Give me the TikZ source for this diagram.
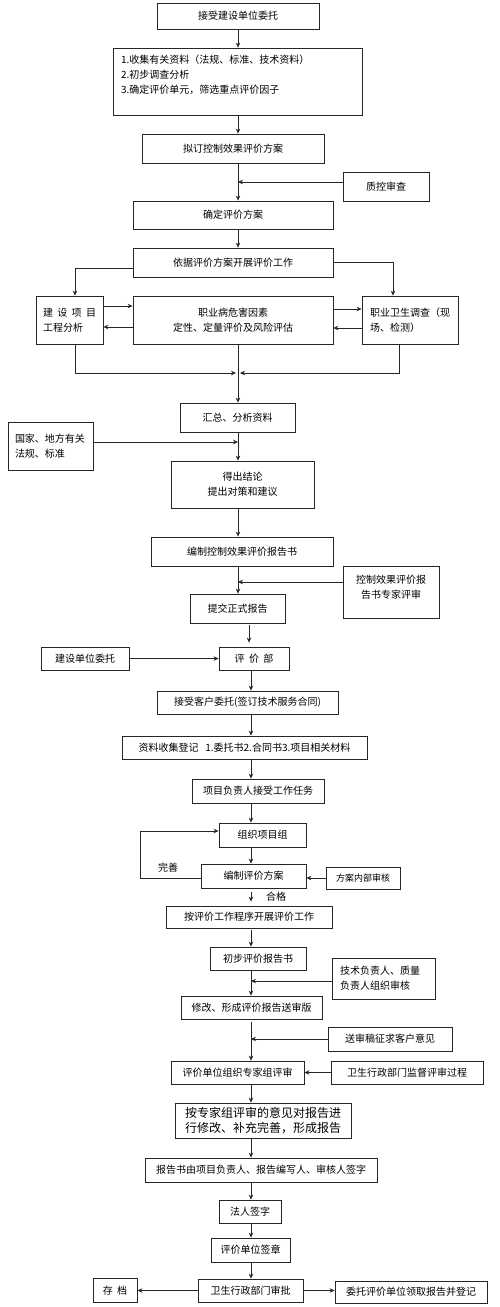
\documentclass[tikz,border=0pt]{standalone}
\usepackage{fontspec}
\newfontfamily\cjk{Noto Sans CJK SC}
\usetikzlibrary{arrows.meta}
\tikzset{
  box/.style={draw=black!85, line width=0.8pt, inner sep=0pt, align=center, font=\cjk\fontsize{10}{15}\selectfont},
  lbox/.style={box, align=left},
  arr/.style={draw=black!85, line width=0.8pt, -{Stealth[length=5pt,width=4.5pt]}},
  ln/.style={draw=black!85, line width=0.8pt},
  lab/.style={inner sep=0pt, font=\cjk\fontsize{10}{12}\selectfont}
}
\begin{document}
\begin{tikzpicture}[x=1pt,y=-1pt]
\useasboundingbox[fill=white] (0,0) rectangle (500,1307);
\coordinate (s) at (238,0);
\coordinate (t) at (251,0);
% upper part
\node[box, minimum width=162pt, minimum height=26pt] (b1) at (238,16) {接受建设单位委托};
\node[lbox, minimum width=249pt, minimum height=67pt, text width=233pt, inner xsep=8pt] (b2) at (237.5,81.5)
  {1.收集有关资料（法规、标准、技术资料）\\2.初步调查分析\\3.确定评价单元，筛选重点评价因子\\~};
\node[box, minimum width=182pt, minimum height=29pt] (b3) at (233,148.5) {拟订控制效果评价方案};
\node[box, minimum width=86pt, minimum height=29pt] (qc) at (386,186.5) {质控审查};
\node[box, minimum width=200pt, minimum height=28pt] (b4) at (233,215) {确定评价方案};
\node[box, minimum width=200pt, minimum height=29pt] (b5) at (233,262.5) {依据评价方案开展评价工作};
\node[lbox, minimum width=67pt, minimum height=48pt, text width=53pt, inner xsep=7pt] (b6) at (69.5,320) {建\hfill{}设\hfill{}项\hfill{}目\\工程分析};
\node[box, minimum width=200pt, minimum height=48pt] (b7) at (233,320) {职业病危害因素\\定性、定量评价及风险评估};
\node[lbox, minimum width=96pt, minimum height=48pt, text width=80pt, inner xsep=8pt] (b8) at (410,320) {职业卫生调查（现\\场、检测）};
\node[box, minimum width=115pt, minimum height=29pt] (b9) at (237.5,417.5) {汇总、分析资料};
\node[lbox, minimum width=85pt, minimum height=48pt, text width=71pt, inner xsep=7pt] (b10) at (50.5,446) {国家、地方有关\\法规、标准};
\node[box, minimum width=143pt, minimum height=47pt] (b11) at (242.5,484.5) {得出结论\\提出对策和建议};
\node[box, minimum width=182pt, minimum height=29pt] (b12) at (242,551.5) {编制控制效果评价报告书};
\node[box, minimum width=96pt, minimum height=52pt] (er) at (391,592) {控制效果评价报\\告书专家评审\\[-4pt]~};
\node[box, minimum width=95pt, minimum height=29pt] (b13) at (237.5,608.5) {提交正式报告};
% lower part
\node[box, minimum width=70pt, minimum height=23pt] (b14) at (254,658.5) {评\ \ 价\ \ 部};
\node[box, minimum width=88pt, minimum height=23pt] (jw) at (85,658.5) {建设单位委托};
\node[box, minimum width=181pt, minimum height=23pt] (b15) at (247.5,702.5) {接受客户委托(签订技术服务合同)};
\node[box, minimum width=245pt, minimum height=23pt] (b16) at (244.5,747.5) {资料收集登记\ \ \ 1.委托书2.合同书3.项目相关材料};
\node[box, minimum width=132pt, minimum height=24pt] (b17) at (258,791) {项目负责人接受工作任务};
\node[box, minimum width=87pt, minimum height=24pt] (b18) at (262.5,835) {组织项目组};
\node[box, minimum width=105pt, minimum height=24pt] (b19) at (253.5,876) {编制评价方案};
\node[box, minimum width=74pt, minimum height=22pt, font=\cjk\fontsize{9}{12}\selectfont] (nb) at (363,878) {方案内部审核};
\node[box, minimum width=166pt, minimum height=22pt] (b20) at (249,917) {按评价工作程序开展评价工作};
\node[box, minimum width=96pt, minimum height=23pt] (b21) at (258,958.5) {初步评价报告书};
\node[lbox, minimum width=103pt, minimum height=41pt, text width=87pt, inner xsep=8pt] (tf) at (383.5,978.5) {技术负责人、质量\\负责人组织审核};
\node[box, minimum width=141pt, minimum height=23pt] (b22) at (251.5,1007.5) {修改、形成评价报告送审版};
\node[box, minimum width=124pt, minimum height=24pt] (ss) at (390,1039) {送审稿征求客户意见};
\node[box, minimum width=133pt, minimum height=23pt] (b23) at (237.5,1072.5) {评价单位组织专家组评审};
\node[box, minimum width=152pt, minimum height=23pt] (ws) at (407,1072.5) {卫生行政部门监督评审过程};
\node[box, minimum width=176pt, minimum height=35pt, font=\cjk\fontsize{12}{15}\selectfont] (b24) at (263,1120.5) {按专家组评审的意见对报告进\\行修改、补充完善，形成报告};
\node[box, minimum width=232pt, minimum height=24pt] (b25) at (261,1170) {报告书由项目负责人、报告编写人、审核人签字};
\node[box, minimum width=62pt, minimum height=23pt] (b26) at (250,1211.5) {法人签字};
\node[box, minimum width=79pt, minimum height=24pt] (b27) at (250.5,1250) {评价单位签章};
\node[box, minimum width=105pt, minimum height=23pt] (b28) at (250.5,1290.5) {卫生行政部门审批};
\node[box, minimum width=44pt, minimum height=24pt] (cd) at (115,1290.5) {存\ \ 档};
\node[box, minimum width=152pt, minimum height=22pt] (wt) at (411,1292) {委托评价单位领取报告并登记};
\node[lab] (ws1) at (168,868) {完善};
\node[lab] (hg) at (276,897) {合格};
\coordinate (m) at (238,373);
\coordinate (lp) at (140,831);
% connectors upper
\draw[arr] (b1.south) -- (b1.south |- b2.north);
\draw[arr] (b2.south -| s) -- (b3.north -| s);
\draw[arr] (b3.south -| s) -- (b4.north -| s);
\draw[arr] ([yshift=4.5pt]qc.west) -- ([yshift=4.5pt]qc.west -| s);
\draw[arr] (b4.south -| s) -- (b5.north -| s);
\draw[arr] ([yshift=-5.5pt]b5.west) -| ([xshift=5.5pt]b6.north);
\draw[arr] (b5.east) -| ([xshift=-17pt]b8.north);
\draw[arr] ([yshift=14pt]b6.east) -- ([yshift=14pt]b6.east -| b7.west);
\draw[arr] ([yshift=-7pt]b7.west) -- ([yshift=-7pt]b7.west -| b6.east);
\draw[arr] ([yshift=11pt]b7.east) -- ([yshift=11pt]b7.east -| b8.west);
\draw[arr] ([yshift=-8pt]b8.west) -- ([yshift=-8pt]b8.west -| b7.east);
\draw[arr] ([xshift=5.5pt]b6.south) |- ([xshift=-2pt]m);
\draw[arr] ([xshift=-11pt]b8.south) |- ([xshift=2pt]m);
\draw[arr] (b7.south -| s) -- (b9.north -| s);
\draw[arr] (b9.south -| s) -- (b11.north -| s);
\draw[arr] ([yshift=4pt]b10.east) -- ([yshift=4pt]b10.east -| s);
\draw[arr] (b11.south -| s) -- (b12.north -| s);
\draw[arr] (b12.south -| s) -- (b13.north -| s);
\draw[arr] ([yshift=10pt]er.west) -- ([yshift=10pt]er.west -| s);
% connectors lower
\draw[arr] ([xshift=-5pt,yshift=-2pt]b14.north |- b13.south) -- ([xshift=-5pt,yshift=4pt]b14.north);
\draw[arr] (jw.east) -- (b14.west);
\draw[arr] (b14.south -| t) -- (b15.north -| t);
\draw[arr] (b15.south -| t) -- (b16.north -| t);
\draw[arr] (b16.south -| t) -- (b17.north -| t);
\draw[arr] (b17.south -| t) -- (b18.north -| t);
\draw[arr] (b18.south -| t) -- (b19.north -| t);
\draw[arr] ([yshift=-2pt]b19.west) -| (lp) -- (lp -| b18.west);
\draw[arr] (nb.west) -- (nb.west -| b19.east);
\draw[arr] ([yshift=-4pt]b19.south -| t) -- ([yshift=4pt]b20.north -| t);
\draw[arr] ([yshift=-2pt]b20.south -| t) -- (b21.north -| t);
\draw[arr] (b21.south -| t) -- (b22.north -| t);
\draw[arr] ([yshift=-2.5pt]tf.west) -- ([yshift=-2.5pt]tf.west -| t);
\draw[arr] ([yshift=-3pt]b22.south -| t) -- (b23.north -| t);
\draw[arr] (ss.west) -- (ss.west -| t);
\draw[arr] (ws.west) -- (ws.west -| b23.east);
\draw[arr] (b23.south -| t) -- (b24.north -| t);
\draw[arr] (b24.south -| t) -- (b25.north -| t);
\draw[arr] (b25.south -| t) -- (b26.north -| t);
\draw[arr] (b26.south -| t) -- (b27.north -| t);
\draw[arr] (b27.south -| t) -- (b28.north -| t);
\draw[arr] (b28.west) -- (b28.west -| cd.east);
\draw[arr] (b28.east) -- (b28.east -| wt.west);
\end{tikzpicture}
\end{document}
